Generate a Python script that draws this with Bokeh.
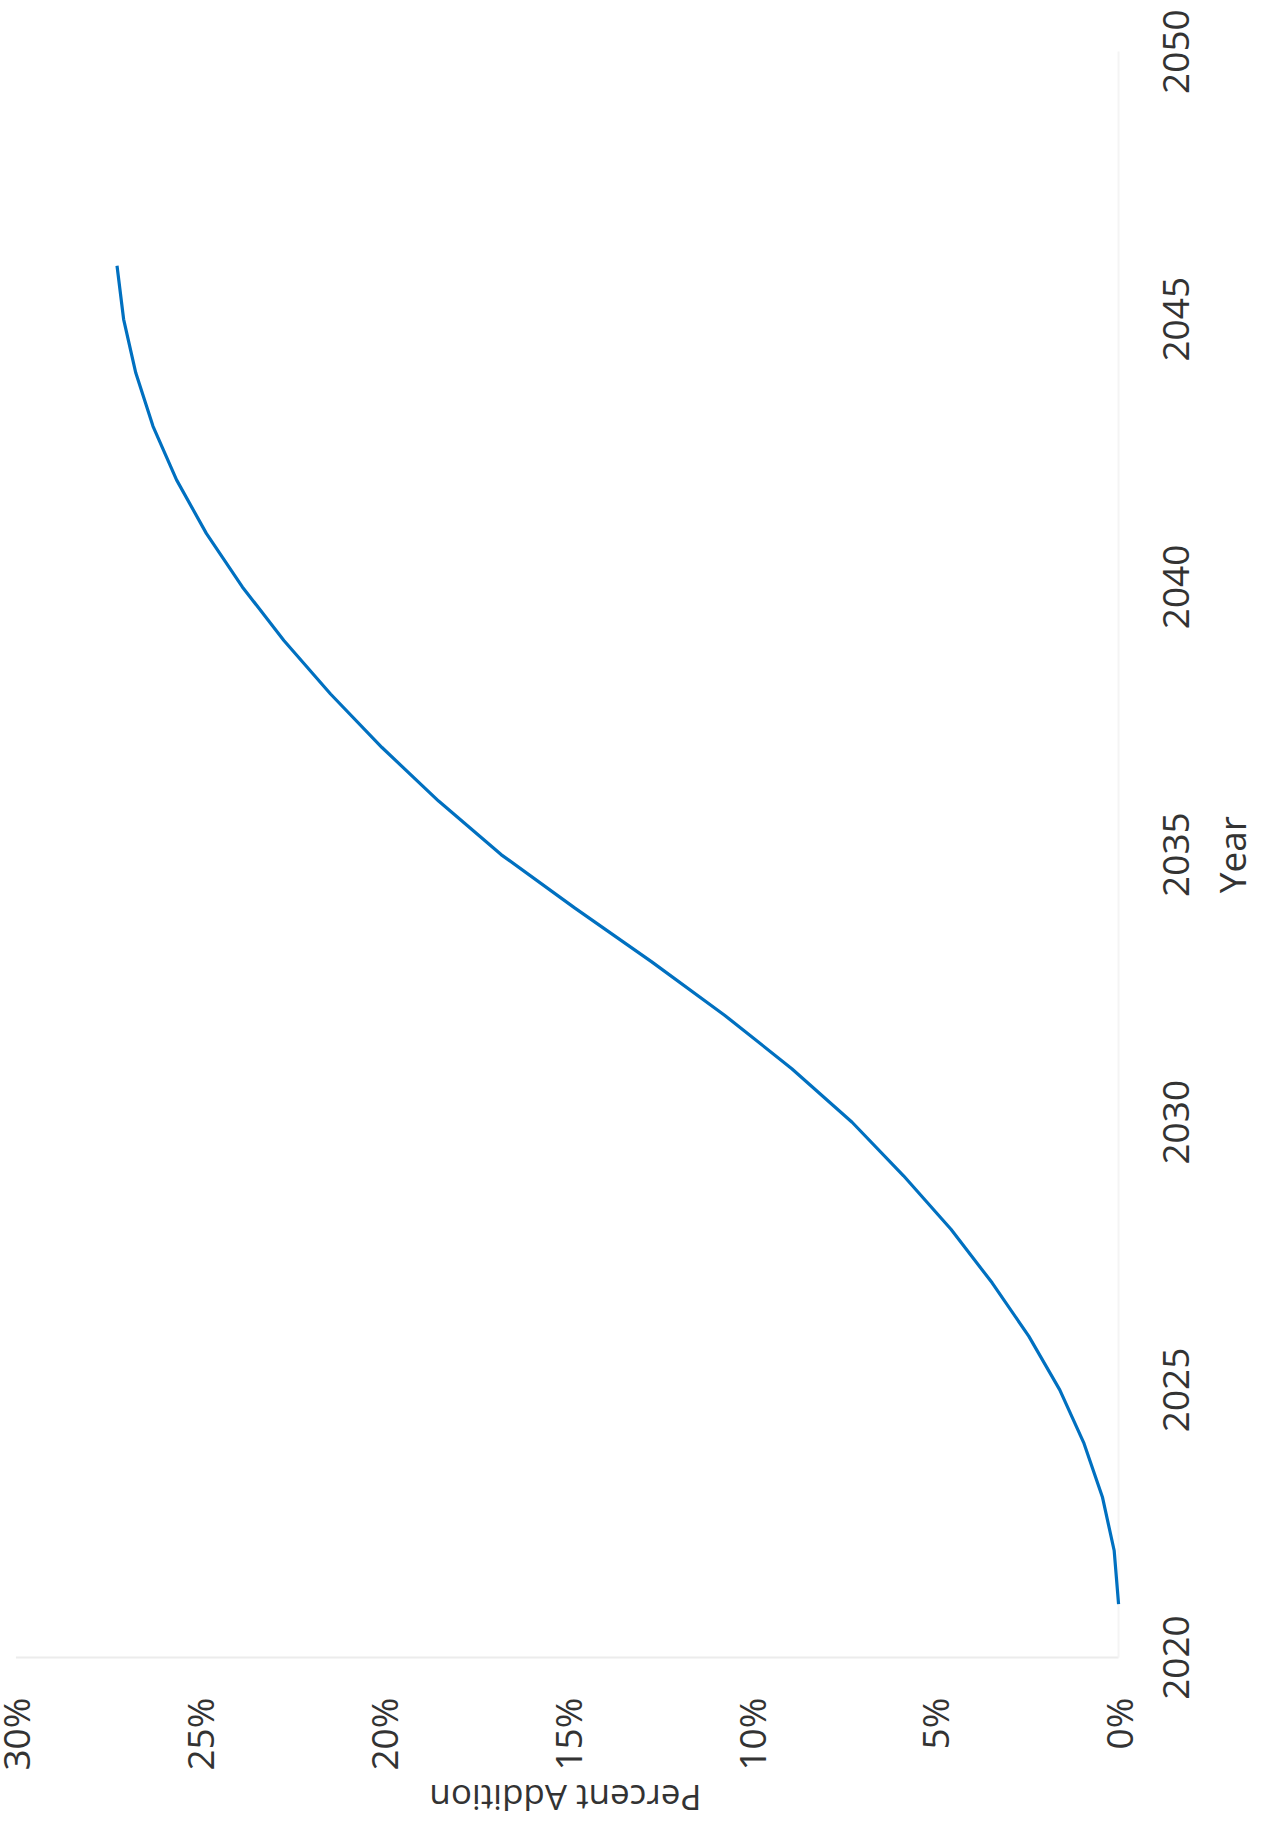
import math
from bokeh.plotting import figure
from bokeh.models import Range1d, ColumnDataSource
from bokeh.core.properties import value
from bokeh.embed import file_html
from bokeh.resources import INLINE

# ---- data ----
years = [2021, 2022, 2023, 2024, 2025, 2026, 2027, 2028, 2029, 2030,
         2031, 2032, 2033, 2034, 2035, 2036, 2037, 2038, 2039, 2040,
         2041, 2042, 2043, 2044, 2045, 2046]
percent_addition = [0.0, 0.12, 0.44, 0.94, 1.60, 2.44, 3.44, 4.56, 5.85, 7.25,
                    8.89, 10.72, 12.71, 14.79, 16.8, 18.5, 20.04, 21.44, 22.71, 23.84,
                    24.82, 25.63, 26.27, 26.74, 27.07, 27.25]
year_ticks = [2020, 2025, 2030, 2035, 2040, 2045, 2050]
year_tick_labels = ["2020", "2025", "2030", "2035", "2040", "2045", "2050"]
percent_ticks = [0, 5, 10, 15, 20, 25, 30]
percent_tick_labels = ["0%", "5%", "10%", "15%", "20%", "25%", "30%"]
x_title = "Year"
y_title = "Percent Addition"

FONT = "Open Sans"
TEXT_COLOR = "#333333"
FONT_SIZE = "37px"

# The page is a scanned chart turned a quarter turn: years run upwards,
# percentages run from right (0%) to left (30%).
p = figure(width=1257, height=1823,
           x_range=Range1d(30.42, -3.78), y_range=Range1d(2016.90, 2050.955),
           x_axis_location=None, y_axis_location=None,
           output_backend="svg", toolbar_location=None,
           min_border=0)
p.outline_line_color = None
p.xgrid.visible = False
p.ygrid.visible = False
p.background_fill_color = "white"
p.border_fill_color = "white"

# faint axis lines (baseline at the first year and at 0%)
p.segment(x0=[percent_ticks[-1]], y0=[year_ticks[0]], x1=[percent_ticks[0]], y1=[year_ticks[0]],
          line_color="#ececec", line_width=2)
p.segment(x0=[percent_ticks[0]], y0=[year_ticks[0]], x1=[percent_ticks[0]], y1=[year_ticks[-1]],
          line_color="#f4f4f4", line_width=2)

# the series
p.line(percent_addition, years, line_color="#0070C0", line_width=3.2)

# year tick labels (right side, reading upwards, centred on ticks)
ysrc = ColumnDataSource(dict(x=[-1.55] * len(year_ticks), y=year_ticks, t=year_tick_labels))
p.text(x="x", y="y", text="t", source=ysrc, angle=math.pi / 2,
       text_align="center", text_baseline="middle",
       text_font=value(FONT), text_font_size=FONT_SIZE, text_color=TEXT_COLOR)

# percent tick labels (bottom, reading upwards, ends aligned)
psrc = ColumnDataSource(dict(x=percent_ticks, y=[2019.25] * len(percent_ticks), t=percent_tick_labels))
p.text(x="x", y="y", text="t", source=psrc, angle=math.pi / 2,
       text_align="right", text_baseline="middle",
       text_font=value(FONT), text_font_size=FONT_SIZE, text_color=TEXT_COLOR)

# axis titles
p.text(x=[-3.075], y=[2035.0], text=[x_title], angle=math.pi / 2,
       text_align="center", text_baseline="middle",
       text_font=value(FONT), text_font_size=FONT_SIZE, text_color=TEXT_COLOR)
p.text(x=[15.05], y=[2017.37], text=[y_title], angle=math.pi,
       text_align="center", text_baseline="middle",
       text_font=value(FONT), text_font_size="35px", text_color=TEXT_COLOR)

open("out.html", "w").write(file_html(p, INLINE))
